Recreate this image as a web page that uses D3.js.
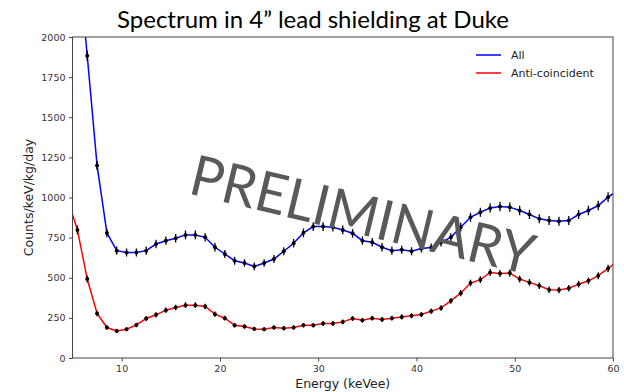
<!DOCTYPE html>
<html>
<head>
<meta charset="utf-8">
<script src="https://cdn.jsdelivr.net/npm/d3@7"></script>
<style>
  body { margin: 0; background: #fff; }
  svg { display: block; }
  .tick text { font-family: "DejaVu Sans", sans-serif; font-size: 9.5px; fill: #333; }
  .tick line { stroke: #444; }
  .domain { stroke: none; }
</style>
</head>
<body>
<div id="chart"></div>
<script>
// bin centres (keV), first and last lie outside the visible axis and get clipped
const energy = [4.5, 5.5, 6.5, 7.5, 8.5, 9.5, 10.5, 11.5, 12.5, 13.5, 14.5, 15.5, 16.5, 17.5, 18.5, 19.5,
  20.5, 21.5, 22.5, 23.5, 24.5, 25.5, 26.5, 27.5, 28.5, 29.5, 30.5, 31.5, 32.5, 33.5, 34.5, 35.5,
  36.5, 37.5, 38.5, 39.5, 40.5, 41.5, 42.5, 43.5, 44.5, 45.5, 46.5, 47.5, 48.5, 49.5, 50.5, 51.5,
  52.5, 53.5, 54.5, 55.5, 56.5, 57.5, 58.5, 59.5, 60.5];

const allCounts = [3200, 2550, 1883, 1200, 779, 669, 658, 658, 669, 710, 731, 746, 767, 767, 752, 690,
  648, 606, 592, 571, 592, 617, 665, 715, 780, 819, 819, 815, 798, 777, 731, 721,
  690, 669, 675, 665, 682, 688, 720, 752, 815, 877, 908, 935, 944, 940, 919, 894,
  867, 856, 852, 856, 894, 919, 950, 1002, 1045];

const antiCounts = [990, 798, 492, 277, 190, 169, 179, 206, 246, 269, 298, 315, 329, 329, 321, 273,
  248, 204, 196, 181, 179, 190, 185, 190, 204, 204, 215, 215, 225, 246, 235, 248,
  240, 248, 256, 263, 271, 292, 312, 356, 404, 467, 488, 533, 527, 529, 492, 471,
  450, 425, 423, 435, 460, 481, 513, 558, 605];

const allErr = [40, 36, 32, 28, 26, 25, 25, 25, 25, 26, 26, 26, 27, 27, 26, 26,
  25, 25, 24, 24, 24, 25, 25, 26, 27, 27, 27, 27, 27, 27, 26, 26,
  26, 25, 25, 25, 25, 25, 26, 26, 27, 28, 28, 29, 29, 29, 29, 28,
  28, 28, 28, 28, 28, 29, 29, 30, 30];

const antiErr = [30, 27, 22, 17, 14, 13, 13, 14, 15, 16, 17, 17, 18, 18, 17, 16,
  15, 14, 14, 13, 13, 14, 14, 14, 14, 14, 15, 15, 15, 15, 15, 15,
  15, 15, 16, 16, 16, 17, 17, 18, 19, 21, 21, 22, 22, 22, 21, 21,
  20, 20, 20, 20, 21, 21, 22, 23, 24];

const seriesNames = ["All", "Anti-coincident"];
const seriesColors = ["#0000ff", "#ff0000"];
const xTicks = [10, 20, 30, 40, 50, 60];
const yTicks = [0, 250, 500, 750, 1000, 1250, 1500, 1750, 2000];

const W = 624, H = 392;
const margin = {top: 37, right: 11, bottom: 34, left: 72.5};

const svg = d3.select("#chart").append("svg")
  .attr("width", W)
  .attr("height", H);

const x = d3.scaleLinear().domain([5, 60]).range([margin.left, W - margin.right]);
const y = d3.scaleLinear().domain([0, 2000]).range([H - margin.bottom, margin.top]);

svg.append("defs").append("clipPath").attr("id", "plotclip")
  .append("rect")
  .attr("x", x(5)).attr("y", y(2000))
  .attr("width", x(60) - x(5)).attr("height", y(0) - y(2000));

// title
svg.append("text")
  .attr("x", 313).attr("y", 28)
  .attr("text-anchor", "middle")
  .style("font-family", "Lato, 'Open Sans', sans-serif")
  .style("font-size", "24px")
  .style("fill", "#000")
  .text("Spectrum in 4\u201d lead shielding at Duke");

// axes
svg.append("g")
  .attr("transform", `translate(0,${y(0)})`)
  .call(d3.axisBottom(x).tickValues(xTicks).tickFormat(d3.format("d")).tickSize(3.5).tickPadding(3.5));

svg.append("g")
  .attr("transform", `translate(${x(5)},0)`)
  .call(d3.axisLeft(y).tickValues(yTicks).tickFormat(d3.format("d")).tickSize(3.5).tickPadding(3.5));

const plot = svg.append("g").attr("clip-path", "url(#plotclip)");

const series = [
  {values: allCounts, errs: allErr, color: seriesColors[0]},
  {values: antiCounts, errs: antiErr, color: seriesColors[1]}
];

const line = d3.line()
  .x((d, i) => x(energy[i]))
  .y(d => y(d));

series.forEach(s => {
  plot.append("path")
    .datum(s.values)
    .attr("d", line)
    .attr("fill", "none")
    .attr("stroke", s.color)
    .attr("stroke-width", 1.5);
});

series.forEach(s => {
  const g = plot.append("g");
  g.selectAll("line")
    .data(s.values)
    .enter().append("line")
    .attr("x1", (d, i) => x(energy[i]))
    .attr("x2", (d, i) => x(energy[i]))
    .attr("y1", (d, i) => y(d - s.errs[i]))
    .attr("y2", (d, i) => y(d + s.errs[i]))
    .attr("stroke", "#000")
    .attr("stroke-width", 1.3);
  g.selectAll("circle")
    .data(s.values)
    .enter().append("circle")
    .attr("cx", (d, i) => x(energy[i]))
    .attr("cy", d => y(d))
    .attr("r", 2)
    .attr("fill", "#000");
});

// frame
svg.append("rect")
  .attr("x", x(5)).attr("y", y(2000))
  .attr("width", x(60) - x(5)).attr("height", y(0) - y(2000))
  .attr("fill", "none")
  .attr("stroke", "#444")
  .attr("stroke-width", 1);

// axis labels
svg.append("text")
  .attr("x", (x(5) + x(60)) / 2).attr("y", 388)
  .attr("text-anchor", "middle")
  .style("font-family", "'DejaVu Sans', sans-serif")
  .style("font-size", "12.5px")
  .style("fill", "#222")
  .text("Energy (keVee)");

svg.append("text")
  .attr("transform", `translate(33,${(y(0) + y(2000)) / 2}) rotate(-90)`)
  .attr("text-anchor", "middle")
  .style("font-family", "'DejaVu Sans', sans-serif")
  .style("font-size", "12.5px")
  .style("fill", "#222")
  .text("Counts/keV/kg/day");

// legend
const legend = svg.append("g").attr("transform", "translate(476,55)");
seriesNames.forEach((name, i) => {
  legend.append("line")
    .attr("x1", 0).attr("x2", 25)
    .attr("y1", i * 18).attr("y2", i * 18)
    .attr("stroke", seriesColors[i])
    .attr("stroke-width", 1.5);
  legend.append("text")
    .attr("x", 35).attr("y", i * 18 + 4)
    .style("font-family", "'DejaVu Sans', sans-serif")
    .style("font-size", "11px")
    .style("fill", "#222")
    .text(name);
});

// watermark
svg.append("text")
  .attr("transform", "translate(187,193) rotate(13.5)")
  .attr("textLength", 352)
  .attr("lengthAdjust", "spacingAndGlyphs")
  .style("font-family", "Lato, 'Open Sans', sans-serif")
  .style("font-size", "56px")
  .style("fill", "#595959")
  .text("PRELIMINARY");
</script>
</body>
</html>
